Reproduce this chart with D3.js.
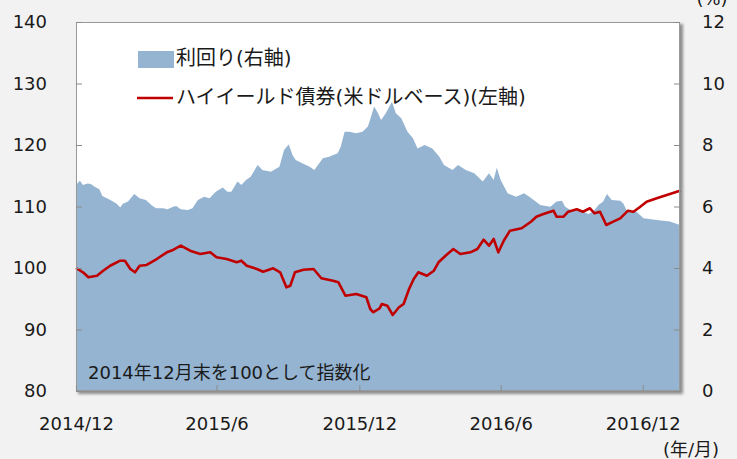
<!DOCTYPE html>
<html><head><meta charset="utf-8">
<script src="https://cdn.jsdelivr.net/npm/d3@7"></script>
<style>
html,body{margin:0;padding:0;background:#f2f2f2;}
svg{display:block;}
text{font-family:"DejaVu Sans","Noto Sans CJK JP",sans-serif;fill:#1a1a1a;}
</style></head><body>
<svg id="c" width="737" height="459"></svg>
<script>
// ---- data ----
const yieldDates = ["2014-12-31","2015-01-05","2015-01-09","2015-01-15","2015-01-19","2015-01-24","2015-01-30","2015-02-03","2015-02-12","2015-02-21","2015-02-26","2015-03-01","2015-03-08","2015-03-16","2015-03-23","2015-03-31","2015-04-07","2015-04-13","2015-04-22","2015-04-28","2015-05-05","2015-05-09","2015-05-15","2015-05-24","2015-05-30","2015-06-06","2015-06-14","2015-06-21","2015-06-29","2015-07-08","2015-07-14","2015-07-19","2015-07-27","2015-08-01","2015-08-07","2015-08-13","2015-08-22","2015-08-28","2015-09-08","2015-09-19","2015-09-25","2015-10-01","2015-10-06","2015-10-10","2015-10-19","2015-10-28","2015-11-03","2015-11-14","2015-11-22","2015-12-03","2015-12-07","2015-12-12","2015-12-18","2015-12-27","2016-01-04","2016-01-11","2016-01-15","2016-01-19","2016-01-24","2016-01-28","2016-02-03","2016-02-11","2016-02-16","2016-02-23","2016-03-02","2016-03-09","2016-03-15","2016-03-24","2016-04-03","2016-04-12","2016-04-18","2016-04-29","2016-05-06","2016-05-16","2016-05-27","2016-06-07","2016-06-15","2016-06-21","2016-06-25","2016-06-30","2016-07-09","2016-07-20","2016-07-30","2016-08-06","2016-08-20","2016-09-02","2016-09-10","2016-09-17","2016-09-21","2016-09-30","2016-10-10","2016-10-21","2016-10-28","2016-11-03","2016-11-09","2016-11-14","2016-11-20","2016-12-01","2016-12-05","2016-12-09","2016-12-22","2016-12-31","2017-01-17","2017-02-03","2017-02-16"];
const yieldValues = [6.70,6.84,6.70,6.75,6.73,6.64,6.56,6.34,6.23,6.10,5.97,6.08,6.16,6.41,6.27,6.21,6.05,5.94,5.94,5.91,5.99,6.02,5.91,5.89,5.94,6.21,6.32,6.27,6.48,6.62,6.48,6.48,6.81,6.70,6.86,6.97,7.35,7.19,7.13,7.29,7.84,8.02,7.67,7.51,7.40,7.29,7.19,7.57,7.62,7.73,7.94,8.43,8.43,8.38,8.43,8.60,8.92,9.25,9.03,8.81,9.03,9.41,9.03,8.87,8.43,8.22,7.89,8.00,7.89,7.62,7.35,7.19,7.35,7.19,7.08,6.81,7.08,6.86,7.26,6.86,6.43,6.32,6.43,6.32,6.05,5.99,6.16,6.19,5.99,5.85,5.89,5.76,5.85,6.05,6.16,6.41,6.21,6.19,6.10,5.89,5.83,5.62,5.56,5.51,5.40];

const hyDates = ["2014-12-31","2015-01-09","2015-01-16","2015-01-27","2015-02-04","2015-02-13","2015-02-26","2015-03-04","2015-03-11","2015-03-17","2015-03-23","2015-04-01","2015-04-14","2015-04-27","2015-05-05","2015-05-15","2015-05-27","2015-06-09","2015-06-22","2015-06-30","2015-07-13","2015-07-26","2015-08-01","2015-08-08","2015-08-21","2015-08-29","2015-09-11","2015-09-20","2015-09-28","2015-10-03","2015-10-09","2015-10-20","2015-11-02","2015-11-12","2015-11-27","2015-12-04","2015-12-13","2015-12-27","2016-01-09","2016-01-14","2016-01-18","2016-01-26","2016-01-29","2016-02-05","2016-02-12","2016-02-20","2016-02-26","2016-03-04","2016-03-10","2016-03-16","2016-03-27","2016-04-05","2016-04-11","2016-04-20","2016-04-30","2016-05-09","2016-05-22","2016-05-31","2016-06-08","2016-06-15","2016-06-21","2016-06-27","2016-07-04","2016-07-12","2016-07-27","2016-08-08","2016-08-15","2016-08-24","2016-09-06","2016-09-10","2016-09-19","2016-09-25","2016-10-06","2016-10-14","2016-10-23","2016-10-29","2016-11-05","2016-11-13","2016-11-22","2016-12-01","2016-12-11","2016-12-18","2016-12-26","2017-01-04","2017-01-17","2017-01-30","2017-02-12","2017-02-16"];
const hyValues = [100.0,99.30,98.49,98.75,99.56,100.37,101.19,101.19,99.84,99.30,100.37,100.49,101.46,102.55,102.93,103.63,102.81,102.28,102.55,101.74,101.46,100.93,101.19,100.37,99.84,99.40,99.95,99.30,96.86,97.12,99.30,99.72,99.84,98.33,97.93,97.67,95.50,95.77,95.24,93.33,92.80,93.45,94.15,93.87,92.36,93.61,94.15,96.59,98.21,99.30,98.75,99.56,100.93,102.00,103.09,102.28,102.55,103.09,104.60,103.63,104.72,102.55,104.44,106.07,106.46,107.53,108.34,108.78,109.32,108.34,108.34,109.15,109.54,109.15,109.71,108.89,109.15,106.99,107.53,108.08,109.32,109.15,109.87,110.78,111.33,111.87,112.41,112.57];

const leftTicks = [80,90,100,110,120,130,140];
const rightTicks = [0,2,4,6,8,10,12];
const xTickDates = ["2014-12-31","2015-06-30","2015-12-31","2016-06-30","2016-12-30"];
const xTickLabels = ["2014/12","2015/6","2015/12","2016/6","2016/12"];
const legendLabels = ["利回り(右軸)","ハイイールド債券(米ドルベース)(左軸)"];
const noteText = "2014年12月末を100として指数化";

// ---- drawing ----
const parse = d3.timeParse("%Y-%m-%d");
const svg = d3.select("#c");
const L = 76, R = 680, T = 22, B = 391;

const x = d3.scaleTime().domain([parse("2014-12-31"), parse("2017-02-16")]).range([L, R]);
const yL = d3.scaleLinear().domain([80,140]).range([B, T]);
const yR = d3.scaleLinear().domain([0,12]).range([B, T]);

// shadow
const defs = svg.append("defs");
const f = defs.append("filter").attr("id","sh").attr("x","-5%").attr("y","-5%").attr("width","115%").attr("height","115%");
f.append("feGaussianBlur").attr("stdDeviation",1.5);
svg.append("rect").attr("x",L+2).attr("y",T+2).attr("width",R-L+1).attr("height",B-T+1)
  .attr("fill","#8c8c8c").attr("filter","url(#sh)");
svg.append("rect").attr("x",L).attr("y",T).attr("width",R-L).attr("height",B-T).attr("fill","#ffffff");

const yData = yieldDates.map((d,i)=>({d:parse(d), v:yieldValues[i]}));
const hData = hyDates.map((d,i)=>({d:parse(d), v:hyValues[i]}));

svg.append("path").datum(yData)
  .attr("fill","#94b4d2")
  .attr("d", d3.area().x(p=>x(p.d)).y0(yR(0)).y1(p=>yR(p.v)));

svg.append("path").datum(hData)
  .attr("fill","none").attr("stroke","#c00000").attr("stroke-width",2.6).attr("stroke-linejoin","round")
  .attr("d", d3.line().x(p=>x(p.d)).y(p=>yL(p.v)));

// border
svg.append("rect").attr("x",L+0.5).attr("y",T+0.5).attr("width",R-L-1).attr("height",B-T-1)
  .attr("fill","none").attr("stroke","#9a9a9a").attr("stroke-width",1);

// left axis
const la = svg.append("g").attr("transform",`translate(${L},0)`)
  .call(d3.axisRight(yL).tickValues(leftTicks).tickSize(6).tickFormat(d3.format("d")));
la.select(".domain").remove();
la.selectAll("line").attr("stroke","#8c8c8c");
la.selectAll("text").attr("x",-29).attr("text-anchor","end").style("font-size","18px").attr("fill","#1a1a1a");

// right axis
const ra = svg.append("g").attr("transform",`translate(${R},0)`)
  .call(d3.axisLeft(yR).tickValues(rightTicks).tickSize(6).tickFormat(d3.format("d")));
ra.select(".domain").remove();
ra.selectAll("line").attr("stroke","#8c8c8c");
ra.selectAll("text").attr("x",22).attr("text-anchor","start").style("font-size","18px").attr("fill","#1a1a1a");

// bottom axis
const ba = svg.append("g").attr("transform",`translate(0,${B})`)
  .call(d3.axisTop(x).tickValues(xTickDates.map(parse)).tickSize(6).tickFormat((d,i)=>xTickLabels[i]));
ba.select(".domain").remove();
ba.selectAll("line").attr("stroke","#8c8c8c");
ba.selectAll("text").attr("y",33).attr("dy","0.35em").style("font-size","18px").attr("fill","#1a1a1a");

// unit labels
svg.append("text").attr("x",712).attr("y",5).attr("text-anchor","middle").style("font-size","18px").text("(%)");
svg.append("text").attr("x",691).attr("y",450).attr("dy","0.35em").attr("text-anchor","middle").style("font-size","18px").text("(年/月)");

// legend
svg.append("rect").attr("x",138).attr("y",51).attr("width",36).attr("height",17).attr("fill","#94b4d2");
svg.append("text").attr("x",176).attr("y",58).attr("dy","0.35em").style("font-size","20px").text(legendLabels[0]);
svg.append("line").attr("x1",137).attr("x2",173).attr("y1",98).attr("y2",98).attr("stroke","#c00000").attr("stroke-width",2.6);
svg.append("text").attr("x",176).attr("y",97).attr("dy","0.35em").style("font-size","20px").text(legendLabels[1]);

// note
svg.append("text").attr("x",88).attr("y",373).attr("dy","0.35em").style("font-size","18px").text(noteText);
</script>
</body></html>
